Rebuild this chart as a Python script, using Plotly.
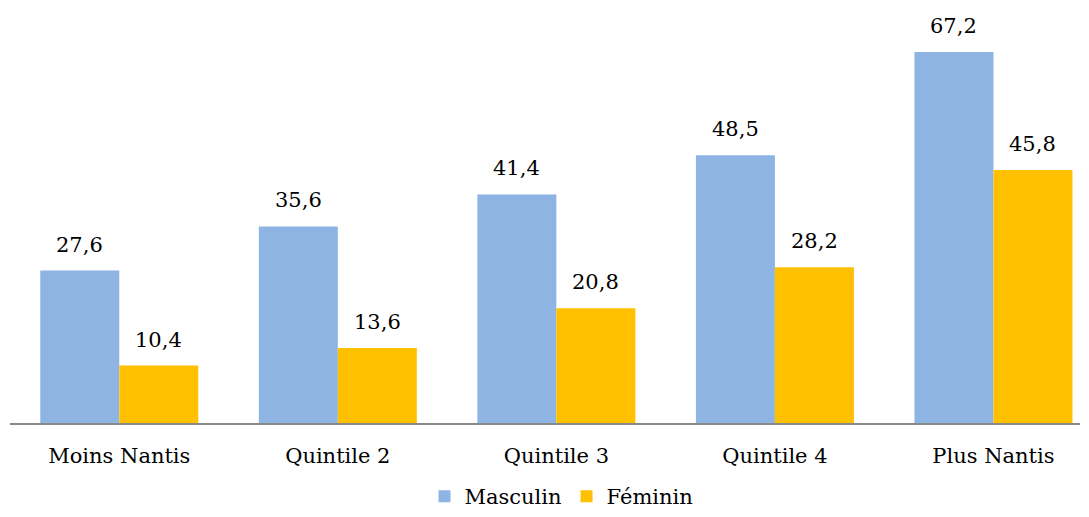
import plotly.graph_objects as go

categories = ["Moins Nantis", "Quintile 2", "Quintile 3", "Quintile 4", "Plus Nantis"]
masculin = [27.6, 35.6, 41.4, 48.5, 67.2]
feminin = [10.4, 13.6, 20.8, 28.2, 45.8]

BLUE = "#8EB4E3"
ORANGE = "#FFC000"
FONT = "DejaVu Serif"
SIZE = 21

fig = go.Figure()
fig.add_trace(go.Bar(x=categories, y=masculin, name="Masculin", marker_color=BLUE,
                     marker_line_width=0))
fig.add_trace(go.Bar(x=categories, y=feminin, name="Féminin", marker_color=ORANGE,
                     marker_line_width=0))

def fmt(v):
    return f"{v:.1f}".replace(".", ",")

for vals, shift in ((masculin, -39.5), (feminin, 39.5)):
    for c, v in zip(categories, vals):
        fig.add_annotation(x=c, y=v, text=fmt(v), showarrow=False, xref="x", yref="y",
                           xshift=shift, yanchor="bottom", yshift=12,
                           font=dict(family=FONT, size=SIZE, color="#000000"))

fig.update_layout(
    width=1089, height=517,
    margin=dict(l=10, r=9, t=10, b=94, autoexpand=False),
    paper_bgcolor="white", plot_bgcolor="white",
    barmode="group", bargap=0.277, bargroupgap=0,
    font=dict(family=FONT, size=SIZE, color="#000000"),
    showlegend=True,
    legend=dict(orientation="h", x=0.5156, xanchor="center", xref="container",
                yref="container", y=0.0, yanchor="bottom",
                font=dict(family=FONT, size=SIZE), itemwidth=30, tracegroupgap=0),
)
fig.update_xaxes(range=[-0.5, 4.396], showline=True, linecolor="#898989", linewidth=2,
                 ticks="", ticklabelstandoff=13,
                 tickfont=dict(family=FONT, size=SIZE), showgrid=False)
fig.update_yaxes(range=[0, 74.8], visible=False, showgrid=False, zeroline=False)

fig.write_html("out.html", config={"displayModeBar": False},
               post_script="document.body.style.margin='0';")
